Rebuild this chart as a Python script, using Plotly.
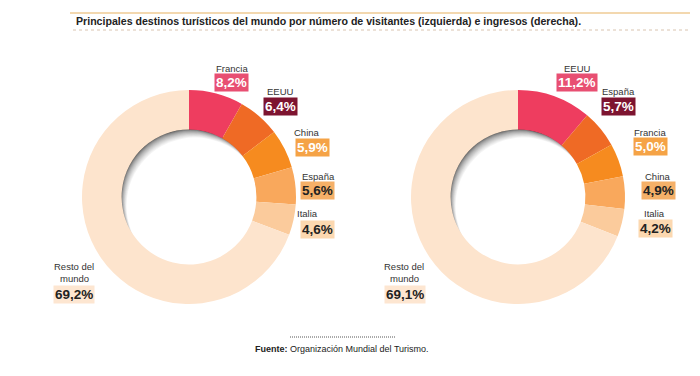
import plotly.graph_objects as go

W, H = 700, 376

# ---- data ----
left_labels = ["Francia", "EEUU", "China", "España", "Italia", "Resto del mundo"]
left_values = [8.2, 6.4, 5.9, 5.6, 4.6, 69.2]
right_labels = ["EEUU", "España", "Francia", "China", "Italia", "Resto del mundo"]
right_values = [11.2, 5.7, 5.0, 4.9, 4.2, 69.1]

slice_colors = ["#EE3D5F", "#EF6A25", "#F68B1F", "#F9A85C", "#FBCB9C", "#FDE4CD"]
box_colors = ["#E84F72", "#7D1430", "#F5A346", "#F5B068", "#FCD8B0", "#FDE6D1"]
box_text_colors = ["white", "white", "white", "#222222", "#222222", "#222222"]

title = "Principales destinos turísticos del mundo por número de visitantes (izquierda) e ingresos (derecha)."
source = "<b>Fuente:</b> Organización Mundial del Turismo."

# geometry (pixels)
R = 107
HOLE = 0.63
left_c = (189, 197)
right_c = (518, 197)

# label anchor positions (pixels): (name_x, name_y, box_x, box_y)
left_label_pos = [(232, 76, 232, 83), (280, 99, 280, 106), (307, 140, 312, 147),
                  (318, 184, 317, 190), (307, 221, 317, 229), (74, 286, 74, 294)]
right_label_pos = [(577, 76, 577, 83), (618, 99, 618, 107), (650, 140, 650, 146),
                   (658, 184, 658, 190), (654, 221, 655, 228), (404, 286, 405, 294)]


def px(x):
    return x / W


def py(y):
    return 1 - y / H


def fmt(v):
    return f"{v:.1f}".replace(".", ",") + "%"


fig = go.Figure()
shapes = []
annotations = []

for labels, values, c, pos in [(left_labels, left_values, left_c, left_label_pos),
                               (right_labels, right_values, right_c, right_label_pos)]:
    cx, cy = c
    fig.add_trace(go.Pie(
        labels=labels, values=values, hole=HOLE, sort=False, direction="clockwise",
        rotation=0, marker=dict(colors=slice_colors, line=dict(width=0)),
        textinfo="none", hoverinfo="label+value", showlegend=False,
        domain=dict(x=[px(cx - R), px(cx + R)], y=[py(cy + R), py(cy - R)]),
    ))
    # inner shadow of the hole
    r_in = R * HOLE + 1
    steps = 12
    for k in range(steps + 1):
        t = k / steps
        g = int(55 + (255 - 55) * (t ** 0.5))
        ox, oy = 6 * t, 9 * t
        shapes.append(dict(type="circle", xref="paper", yref="paper", layer="below",
                           x0=px(cx + ox - r_in), x1=px(cx + ox + r_in),
                           y0=py(cy + oy + r_in), y1=py(cy + oy - r_in),
                           fillcolor=f"rgb({g},{g},{g})", line=dict(width=0)))
    for i, lab in enumerate(labels):
        nx, ny, bx, by = pos[i]
        lines = ["Resto del", "mundo"] if lab == "Resto del mundo" else [lab]
        for j, line in enumerate(reversed(lines)):
            annotations.append(dict(x=px(nx), y=py(ny - 12 * j), xref="paper", yref="paper",
                                    text=line, showarrow=False, xanchor="center", yanchor="bottom",
                                    font=dict(family="Liberation Sans, Arial", size=9.5,
                                              color="#333333")))
        annotations.append(dict(x=px(bx), y=py(by), xref="paper", yref="paper",
                                text="<b>" + fmt(values[i]) + "</b>", showarrow=False,
                                xanchor="center", yanchor="middle", bgcolor=box_colors[i],
                                borderpad=1,
                                font=dict(family="Liberation Sans, Arial", size=13.5,
                                          color=box_text_colors[i])))

# title and decorative lines
annotations.append(dict(x=px(74), y=py(21), xref="paper", yref="paper", text="<b>" + title + "</b>",
                        showarrow=False, xanchor="left", yanchor="middle",
                        font=dict(family="Liberation Sans, Arial", size=10.6, color="#222222")))
annotations.append(dict(x=px(342), y=py(349), xref="paper", yref="paper", text=source,
                        showarrow=False, xanchor="center", yanchor="middle",
                        font=dict(family="Liberation Sans, Arial", size=9, color="#222222")))
shapes.append(dict(type="line", xref="paper", yref="paper", x0=px(70), x1=px(690), y0=py(13), y1=py(13),
                   line=dict(color="#EFCB95", width=1.5)))
shapes.append(dict(type="line", xref="paper", yref="paper", x0=px(73), x1=px(690), y0=py(30), y1=py(30),
                   line=dict(color="#D9C4B0", width=1, dash="dot")))
shapes.append(dict(type="line", xref="paper", yref="paper", x0=px(290), x1=px(395), y0=py(337), y1=py(337),
                   line=dict(color="#555555", width=1, dash="1px,1px")))

fig.update_layout(width=W, height=H, margin=dict(l=0, r=0, t=0, b=0),
                  paper_bgcolor="white", plot_bgcolor="white",
                  shapes=shapes, annotations=annotations)

fig.write_html("out.html", config={"displayModeBar": False},
               post_script="document.body.style.margin='0px';")
